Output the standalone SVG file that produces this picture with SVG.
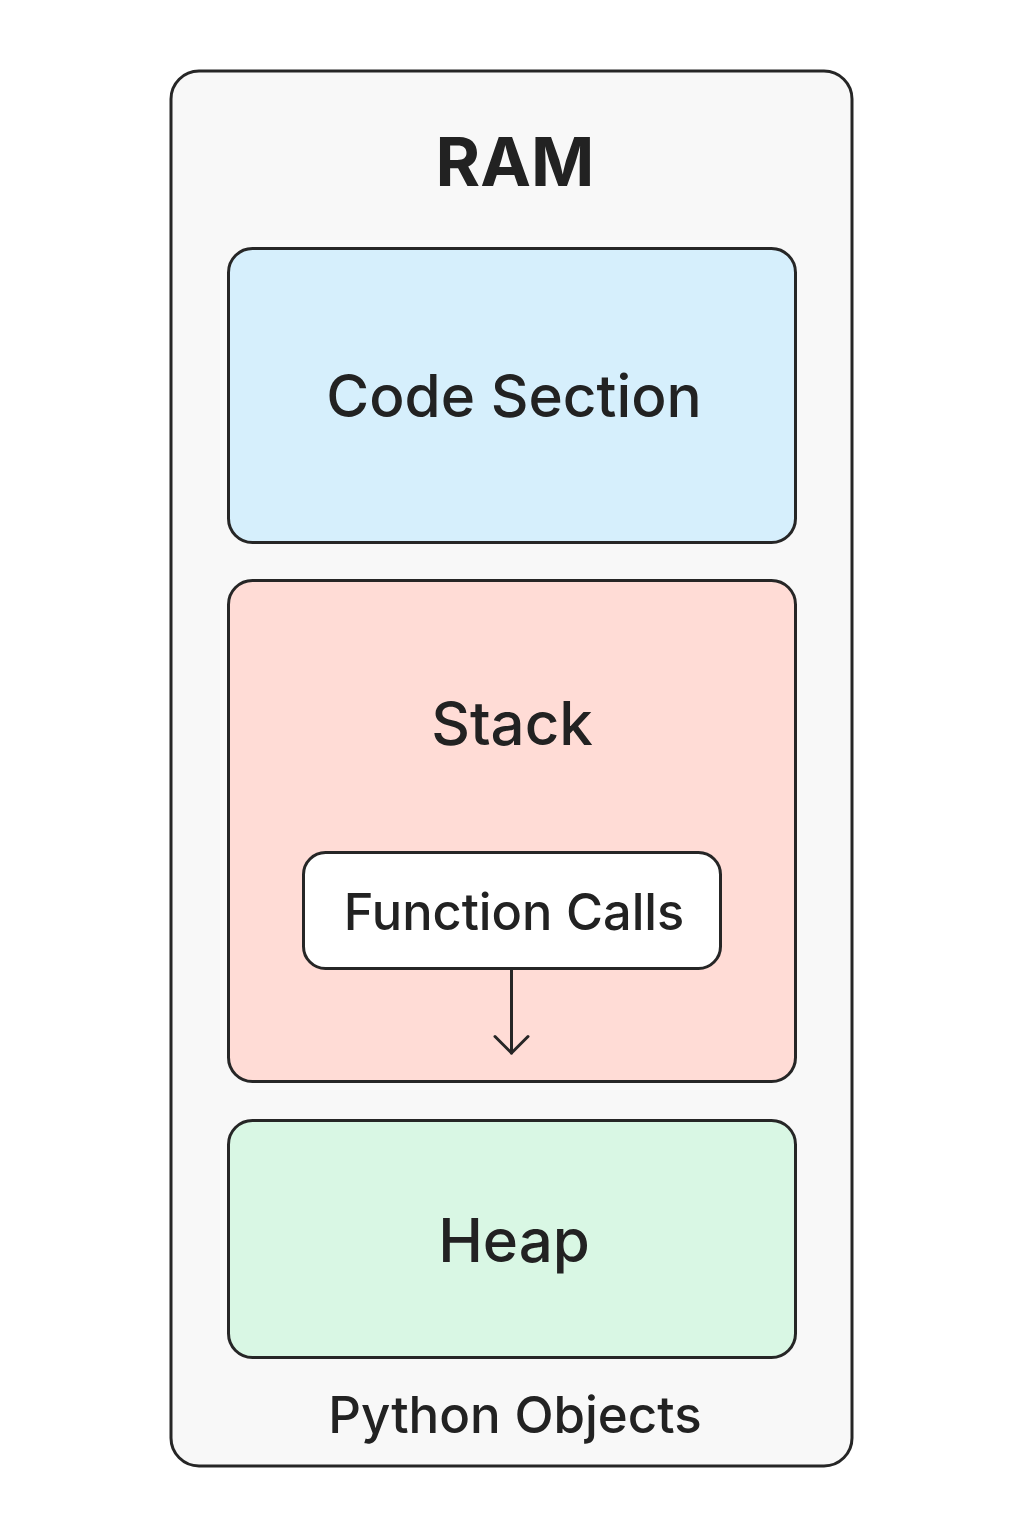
<svg xmlns="http://www.w3.org/2000/svg" width="1024" height="1536" viewBox="0 0 1024 1536">
<defs>
<style>
.box{stroke:#262626;stroke-width:3}
.t{font-family:Inter,"Noto Sans","Liberation Sans",sans-serif;fill:#222;text-anchor:middle;font-weight:500}
</style>
<marker id="chev" viewBox="0 0 24 40" refX="20.500" refY="20" markerWidth="24" markerHeight="40" markerUnits="userSpaceOnUse" orient="auto">
<path d="M4 3.500 L20.500 20 L4 36.500" fill="none" stroke="#262626" stroke-width="3" stroke-linecap="round" stroke-linejoin="round"/>
</marker>
</defs>
<rect width="1024" height="1536" fill="#ffffff"/>
<g id="ram">
<rect class="box" x="171" y="71" width="681" height="1395" rx="28" fill="#f8f8f8"/>
<text class="t" x="515" y="186" font-size="68" style="font-weight:700">RAM</text>
</g>
<g id="code">
<rect class="box" x="228.500" y="248.500" width="567" height="294" rx="24" fill="#d6effc"/>
<text class="t" x="514" y="417" font-size="58.500">Code Section</text>
</g>
<g id="stack">
<rect class="box" x="228.500" y="580.500" width="567" height="501" rx="24" fill="#ffdcd6"/>
<text class="t" x="512" y="745" font-size="60">Stack</text>
</g>
<g id="function-calls">
<rect class="box" x="303.500" y="852.500" width="417" height="116" rx="22" fill="#ffffff"/>
<text class="t" x="514" y="930" font-size="50.500">Function Calls</text>
</g>
<g id="heap">
<rect class="box" x="228.500" y="1120.500" width="567" height="237" rx="24" fill="#d9f7e4"/>
<text class="t" x="514" y="1262" font-size="60">Heap</text>
</g>
<g id="python-objects">
<text class="t" x="515" y="1433" font-size="51">Python Objects</text>
</g>
<g id="connectors" fill="none" stroke="#262626" stroke-width="3" stroke-linecap="round">
<path d="M511.500 969 V1053" marker-end="url(#chev)"/>
</g>
</svg>
